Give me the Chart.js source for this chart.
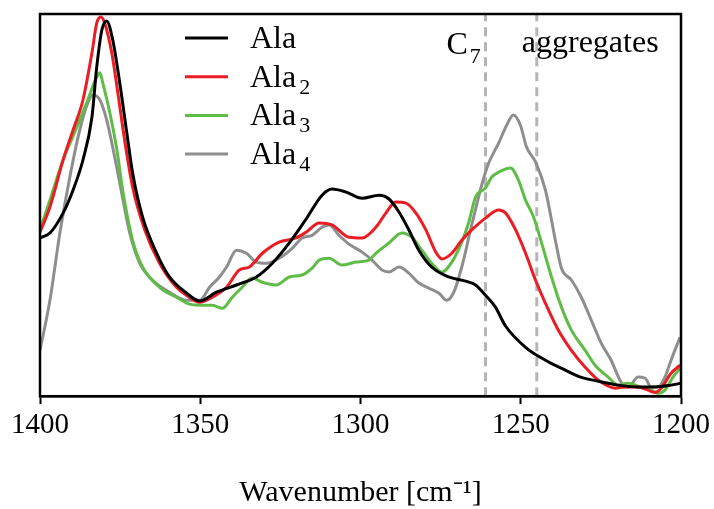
<!DOCTYPE html>
<html><head><meta charset="utf-8">
<script src="https://cdn.jsdelivr.net/npm/chart.js@4.4.1/dist/chart.umd.min.js"></script>
<style>html,body{margin:0;padding:0;background:#fff}canvas{display:block}</style>
</head><body>
<canvas id="c" width="714" height="509"></canvas>
<script>
// Wavenumbers (cm-1) and intensities (arb. units)
const wnAla = [1400,1396.9,1392.8,1389.7,1386.6,1383.8,1382.3,1380.7,1379.2,1377.3,1375.1,1372.9,1371.1,1368.0,1363.6,1359.6,1354.3,1350.2,1345.0,1338.7,1332.5,1327.5,1322.2,1317.0,1312.0,1308.9,1304.5,1299.5,1294.2,1291.1,1288.0,1284.9,1281.8,1277.8,1272.5,1267.2,1264.1,1261.0,1257.9,1254.7,1248.5,1242.3,1236.1,1232.0,1225.8,1219.6,1213.4,1208.1,1203.1,1200];
const ala = [41.4,42.7,47.9,53.9,61.8,73.0,86.1,95.8,98.2,93.2,81.9,68.8,58.4,46.9,37.4,31.2,27.0,24.9,27.2,29.1,31.2,34.8,40.1,46.3,52.6,54.2,53.4,51.8,52.6,51.6,48.2,43.5,38.2,33.8,31.2,30.1,29.1,26.4,23.3,18.3,12.8,9.4,6.8,5.2,3.9,2.9,2.4,2.4,2.9,3.4];

const wnAla2 = [1400,1396.9,1392.8,1389.7,1386.6,1383.8,1382.3,1381.0,1379.8,1377.6,1375.7,1373.6,1371.1,1367.3,1362.7,1357.4,1354.3,1350.2,1346.2,1341.8,1337.8,1334.7,1330.6,1325.4,1320.1,1317.0,1312.9,1308.9,1303.6,1299.5,1295.2,1292.1,1289.0,1285.8,1282.7,1279.6,1276.5,1274.6,1271.5,1268.4,1265.3,1261.0,1256.9,1254.7,1251.6,1248.5,1245.4,1242.3,1238.3,1234.2,1229.9,1225.8,1220.5,1217.4,1213.4,1210.3,1208.1,1206.2,1203.1,1200.3];
const ala2 = [42.9,49.5,61.8,69.6,77.5,89.8,97.6,99.2,97.6,89.8,79.3,67.0,54.7,43.5,34.8,28.5,26.4,24.6,25.9,28.5,33.0,33.8,37.4,40.3,41.4,42.9,45.3,44.8,41.6,41.4,44.2,47.9,50.8,50.5,47.9,43.5,37.7,35.9,37.4,40.8,43.5,46.6,48.7,47.9,43.5,37.4,30.4,24.3,17.3,12.0,7.6,4.2,2.1,2.4,2.4,1.6,1.0,2.1,6.0,8.1];

const wnAla3 = [1400,1396.9,1392.8,1388.5,1385.1,1382.3,1381.3,1380.4,1378.2,1376.0,1374.2,1371.1,1368.0,1362.7,1357.4,1353.3,1349.3,1346.2,1343.1,1340.0,1336.9,1333.8,1330.6,1326.3,1322.2,1318.2,1315.1,1312.9,1309.8,1305.8,1301.4,1297.4,1295.2,1291.1,1287.1,1284.0,1280.9,1277.8,1274.6,1271.5,1268.4,1266.3,1264.1,1261.0,1259.1,1256.9,1253.2,1250.7,1248.5,1246.0,1243.5,1240.4,1237.3,1234.2,1229.9,1226.8,1222.7,1219.6,1216.5,1213.4,1209.3,1207.2,1205.0,1202.5,1200.3];
const ala3 = [43.5,51.3,61.8,70.4,77.5,83.5,84.6,81.9,74.1,64.4,53.9,40.8,33.8,28.5,25.9,24.1,23.8,23.8,23.0,25.9,28.5,30.9,29.8,29.1,31.2,31.7,33.5,35.6,36.1,34.3,35.1,35.6,37.4,40.1,42.7,41.6,38.2,34.8,32.5,35.1,40.3,45.3,52.1,54.5,57.3,58.6,59.7,56.5,51.3,46.9,40.1,31.2,23.3,17.3,12.0,8.1,5.0,2.9,3.4,2.6,1.6,0.8,1.6,5.0,7.3];

const wnAla4 = [1400,1396.9,1393.8,1390.7,1387.6,1385.1,1383.5,1381.3,1379.2,1376.7,1374.5,1372.0,1368.9,1364.9,1359.6,1354.3,1350.2,1347.1,1344.0,1341.8,1338.7,1335.6,1332.5,1329.4,1325.4,1321.3,1318.2,1315.1,1312.0,1309.8,1306.7,1303.6,1299.5,1296.4,1293.3,1291.1,1288.0,1284.9,1281.8,1278.7,1275.6,1273.1,1270.9,1268.4,1265.3,1262.2,1260.0,1256.9,1254.4,1252.3,1250.1,1248.2,1245.4,1242.3,1239.2,1237.3,1234.2,1231.1,1228.0,1224.9,1221.8,1218.7,1216.5,1213.4,1211.2,1209.3,1207.2,1205.0,1203.1,1200.3];
const ala4 = [12.0,25.1,42.7,57.3,69.6,76.7,78.8,77.5,72.3,62.6,53.1,42.7,34.8,30.4,27.2,25.1,25.1,28.5,31.2,33.8,38.2,37.4,35.1,34.8,36.1,38.7,41.4,42.1,44.2,44.8,42.1,39.8,37.7,35.6,33.0,32.5,33.8,32.2,29.6,28.3,27.0,25.1,27.2,33.8,44.8,55.2,61.0,66.2,70.9,73.6,70.9,65.2,61.3,53.9,40.8,33.5,30.4,25.9,19.9,13.9,9.4,3.7,2.4,5.0,4.7,2.4,2.4,5.0,9.4,15.4];

const seriesBase = ['Ala','Ala','Ala','Ala'];
const seriesSub = ['','2','3','4'];
const seriesColors = ['#000000','#ec1c24','#5fbc46','#8e8e8e'];
const markerLines = [1261, 1245];          // C7 and aggregates positions (cm-1)
const markerLabels = ['C', 'aggregates'];
const xMin = 1200, xMax = 1400, xStep = 50;
const yMin = 0, yMax = 100;

function pts(xs, ys){ return xs.map((x,i)=>({x:x, y:ys[i]})); }

const serif = '"Liberation Serif","Times New Roman",Times,serif';

const datasets = [
  [wnAla, ala], [wnAla2, ala2], [wnAla3, ala3], [wnAla4, ala4]
].map((s,i)=>({
  label: seriesBase[i] + seriesSub[i],
  data: pts(s[0], s[1]),
  borderColor: seriesColors[i],
  borderWidth: 3,
  pointRadius: 0,
  cubicInterpolationMode: 'monotone',
  fill: false
}));
markerLines.forEach((m)=>{
  datasets.push({
    label: 'marker',
    data: [{x:m, y:yMin}, {x:m, y:yMax}],
    borderColor: '#b5b5b5',
    borderWidth: 3,
    borderDash: [9, 6],
    pointRadius: 0,
    fill: false
  });
});

const decor = {
  id: 'decor',
  afterDatasetsDraw(chart){
    const {ctx, chartArea:a, scales} = chart;
    ctx.save();
    // frame
    ctx.strokeStyle = '#000';
    ctx.lineWidth = 2.5;
    ctx.strokeRect(a.left, a.top, a.right - a.left, a.bottom - a.top);
    // legend
    const lx0 = a.left + 145, lx1 = a.left + 188, tx = a.left + 210;
    const ly0 = a.top + 24, dy = 38.7;
    for (let i = 0; i < 4; i++){
      const y = ly0 + i*dy;
      ctx.strokeStyle = seriesColors[i];
      ctx.lineWidth = 3;
      ctx.beginPath(); ctx.moveTo(lx0, y); ctx.lineTo(lx1, y); ctx.stroke();
      ctx.fillStyle = '#000';
      ctx.font = '32px ' + serif;
      ctx.textAlign = 'left';
      ctx.textBaseline = 'alphabetic';
      const base = y + 10;
      ctx.fillText(seriesBase[i], tx, base);
      if (seriesSub[i]){
        const w = ctx.measureText(seriesBase[i]).width;
        ctx.font = '22px ' + serif;
        ctx.fillText(seriesSub[i], tx + w + 3, base + 7);
      }
    }
    // marker labels
    const x1 = scales.x.getPixelForValue(markerLines[0]);
    const x2 = scales.x.getPixelForValue(markerLines[1]);
    ctx.fillStyle = '#000';
    ctx.font = '32px ' + serif;
    ctx.textAlign = 'left';
    ctx.fillText(markerLabels[0], x1 - 39, a.top + 40);
    const cw = ctx.measureText(markerLabels[0]).width;
    ctx.font = '22px ' + serif;
    ctx.fillText('7', x1 - 39 + cw + 2, a.top + 49);
    ctx.font = '32px ' + serif;
    ctx.fillText(markerLabels[1], x2 - 15, a.top + 38);
    ctx.restore();
  }
};

new Chart(document.getElementById('c'), {
  type: 'line',
  data: { datasets },
  options: {
    responsive: false,
    animation: false,
    devicePixelRatio: 1,
    layout: { padding: { left: 40, right: 31, top: 14, bottom: 1 } },
    plugins: { legend: { display: false }, tooltip: { enabled: false } },
    scales: {
      x: {
        type: 'linear',
        reverse: true,
        min: xMin, max: xMax,
        border: { display: true, color: '#000', width: 2.5 },
        grid: { display: true, drawOnChartArea: false, drawTicks: true, tickLength: 8, tickWidth: 2, tickColor: '#000' },
        ticks: { stepSize: xStep, color: '#000', padding: 4, maxRotation: 0,
                 font: { family: serif, size: 29 },
                 callback: (v) => String(v) },
        title: { display: true, text: 'Wavenumber [cm\u207B\u00B9]', color: '#000',
                 font: { family: serif, size: 30, lineHeight: 1.0 }, padding: { top: 31, bottom: 0 } }
      },
      y: { display: false, min: yMin, max: yMax }
    }
  },
  plugins: [decor]
});
</script>
</body></html>
